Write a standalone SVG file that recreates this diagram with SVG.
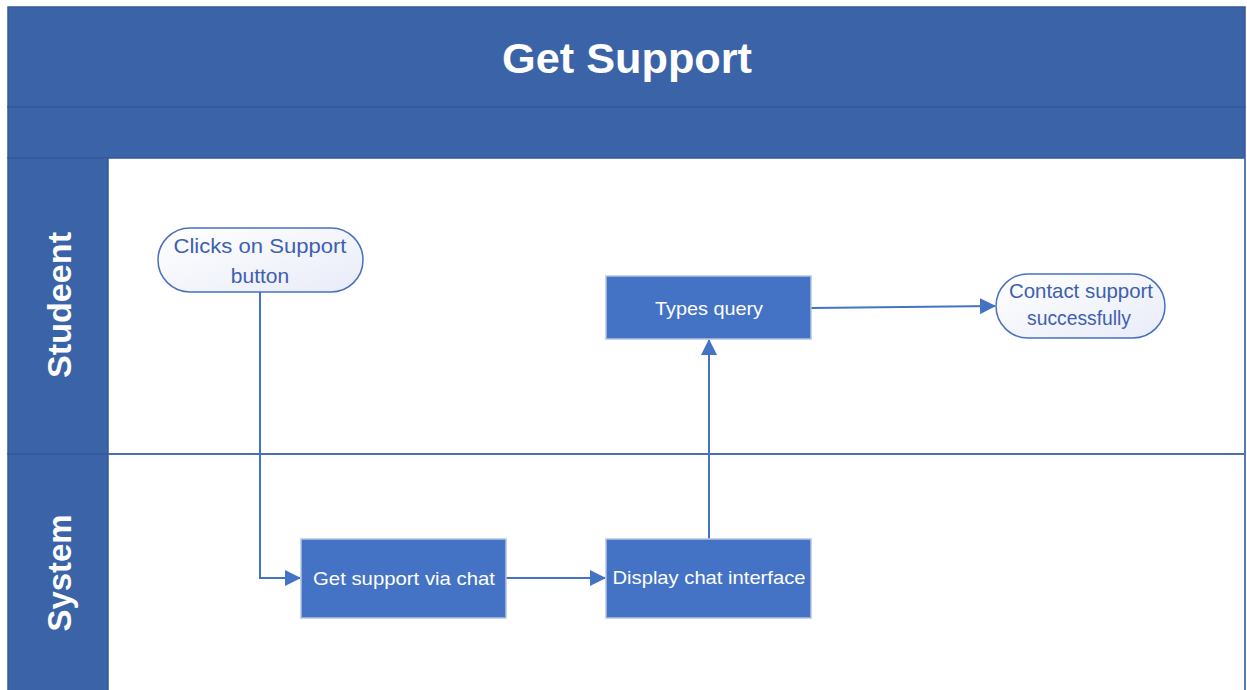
<svg xmlns="http://www.w3.org/2000/svg" width="1247" height="690" viewBox="0 0 1247 690">
<style>
.band{fill:#3A63A8;stroke:#34599A;stroke-width:1.5}
.lane{fill:#ffffff}
.proc{fill:#4472C4;stroke:#B4C3E0;stroke-width:1.5}
.term{fill:url(#tg);stroke:#4A6FBF;stroke-width:1.5}
.pt{font-family:"Liberation Sans",Arial,sans-serif;font-size:19px;fill:#ffffff;text-anchor:middle}
.tt{font-family:"Liberation Sans",Arial,sans-serif;font-size:21px;fill:#3F5FAF;text-anchor:middle}
.hd{font-family:"Liberation Sans",Arial,sans-serif;font-weight:bold;fill:#ffffff;text-anchor:middle}
.con{fill:none;stroke:#4472C4;stroke-width:2;marker-end:url(#ah)}
</style>
<defs>
<linearGradient id="tg" x1="0" y1="0" x2="1" y2="1">
<stop offset="0" stop-color="#FFFFFF"/>
<stop offset="1" stop-color="#E8ECF8"/>
</linearGradient>
<marker id="ah" markerWidth="8" markerHeight="8" refX="7.5" refY="4" orient="auto" markerUnits="strokeWidth">
<path d="M0,0 L8,4 L0,8 Z" fill="#4472C4"/>
</marker>
</defs>
<rect x="0" y="0" width="1247" height="690" fill="#ffffff"/>
<g id="pool">
<rect x="108" y="158" width="1137" height="540" class="lane"/>
<rect x="8" y="7" width="1237" height="100" class="band"/>
<rect x="8" y="107" width="1237" height="51" class="band"/>
<rect x="8" y="158" width="100" height="296" class="band"/>
<rect x="8" y="454" width="100" height="244" class="band"/>
<line x1="108" y1="454" x2="1245" y2="454" stroke="#4A6EB0" stroke-width="2"/>
<line x1="1245" y1="158" x2="1245" y2="690" stroke="#5A78B0" stroke-width="2"/>
<text x="627" y="73" class="hd" font-size="42" textLength="250" lengthAdjust="spacingAndGlyphs">Get Support</text>
<text transform="translate(71,305) rotate(-90)" class="hd" font-size="33" textLength="146" lengthAdjust="spacingAndGlyphs">Studeent</text>
<text transform="translate(71,573) rotate(-90)" class="hd" font-size="33" textLength="117" lengthAdjust="spacingAndGlyphs">System</text>
</g>
<g id="connectors">
<path d="M260,292 V578 H300" class="con"/>
<path d="M506,578 H605" class="con"/>
<path d="M709,539 V340" class="con"/>
<path d="M811,308 L995,306" class="con"/>
</g>
<g id="start">
<rect x="158" y="228" width="205" height="64" rx="32" ry="32" class="term"/>
<text x="260" y="253" class="tt" textLength="173" lengthAdjust="spacingAndGlyphs">Clicks on Support</text>
<text x="260" y="283" class="tt">button</text>
</g>
<g id="types-query">
<rect x="606" y="276" width="205" height="63" class="proc"/>
<text x="709" y="315" class="pt" textLength="108" lengthAdjust="spacingAndGlyphs">Types query</text>
</g>
<g id="contact-support">
<rect x="996" y="274" width="169" height="64" rx="32" ry="32" class="term"/>
<text x="1081" y="298" class="tt" font-size="19" textLength="144" lengthAdjust="spacingAndGlyphs">Contact support</text>
<text x="1079" y="325" class="tt" font-size="19" textLength="104" lengthAdjust="spacingAndGlyphs">successfully</text>
</g>
<g id="get-support">
<rect x="301" y="539" width="205" height="79" class="proc"/>
<text x="404" y="585" class="pt" textLength="182" lengthAdjust="spacingAndGlyphs">Get support via chat</text>
</g>
<g id="display-chat">
<rect x="606" y="539" width="205" height="79" class="proc"/>
<text x="709" y="584" class="pt" textLength="193" lengthAdjust="spacingAndGlyphs">Display chat interface</text>
</g>
</svg>
